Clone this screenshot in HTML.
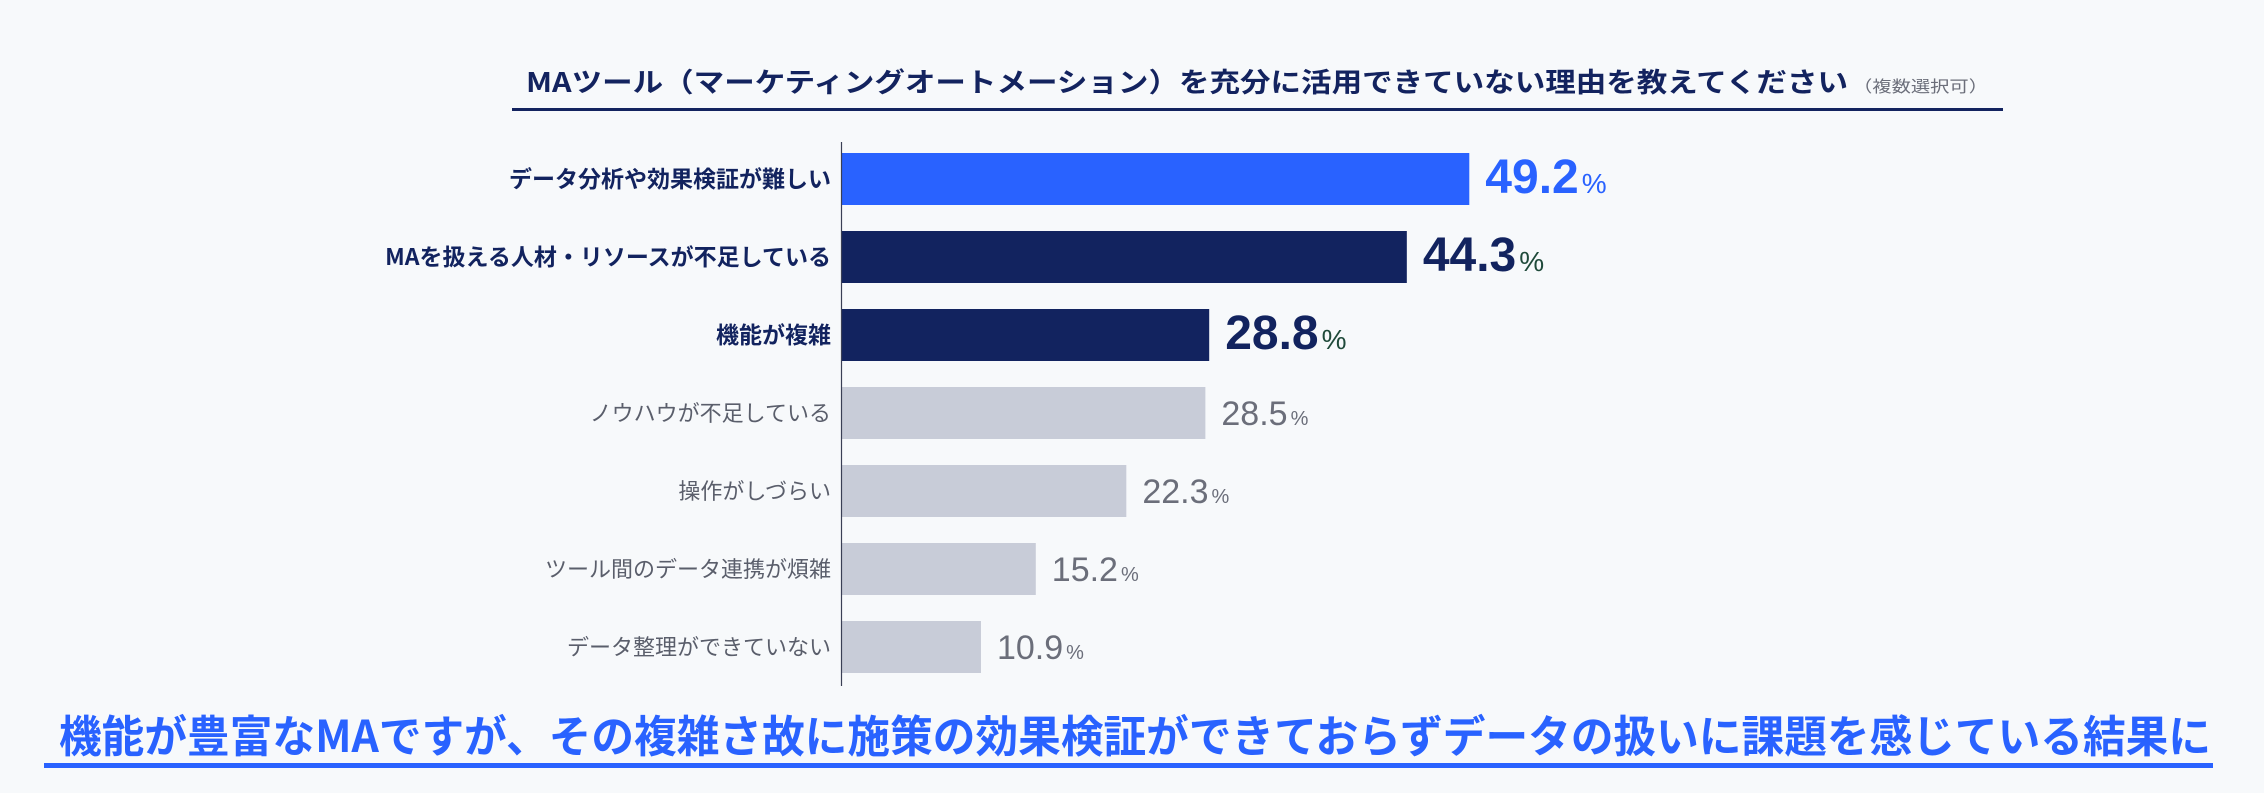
<!DOCTYPE html>
<html><head><meta charset="utf-8">
<style>
html,body{margin:0;padding:0;background:#fff;}
svg{display:block;font-family:"Liberation Sans","Noto Sans CJK JP",sans-serif;}
</style></head>
<body>
<svg id="chart" width="2264" height="808" viewBox="0 0 2264 808" xmlns="http://www.w3.org/2000/svg">
<rect x="0" y="0" width="2264" height="793" fill="#f7f9fb"/>
<text x="526" y="92" font-family="Noto Sans CJK JP, sans-serif" font-weight="700" font-size="27" fill="#13235f" textLength="1322" lengthAdjust="spacingAndGlyphs">MAツール（マーケティングオートメーション）を充分に活用できていない理由を教えてください</text>
<text x="1853" y="92" font-family="Noto Sans CJK JP, sans-serif" font-size="16" fill="#6b6e7a" textLength="135" lengthAdjust="spacingAndGlyphs">（複数選択可）</text>
<rect x="512" y="108" width="1491" height="3" fill="#13235f"/>
<g id="bars"></g>
<line x1="841.5" y1="142" x2="841.5" y2="686" stroke="#3a3f55" stroke-width="1.2"/>
<text x="59" y="752" font-family="Noto Sans CJK JP, sans-serif" font-weight="700" font-size="44" fill="#2962ff" textLength="2152" lengthAdjust="spacingAndGlyphs">機能が豊富なMAですが、その複雑さ故に施策の効果検証ができておらずデータの扱いに課題を感じている結果に</text>
<rect x="44" y="763" width="2169" height="5" fill="#2962ff"/>
</svg>
<script>
const categories = ["データ分析や効果検証が難しい","MAを扱える人材・リソースが不足している","機能が複雑","ノウハウが不足している","操作がしづらい","ツール間のデータ連携が煩雑","データ整理ができていない"];
const values = [49.2,44.3,28.8,28.5,22.3,15.2,10.9];
const valueLabels = ["49.2","44.3","28.8","28.5","22.3","15.2","10.9"];
const highlight = [1,2,2,0,0,0,0];

const NS="http://www.w3.org/2000/svg";
const x0=842, pxPer=12.75, top0=153, pitch=78, bh=52;
function xScale(v){return x0+v*pxPer;}
function yScale(i){return top0+i*pitch;}
const g=document.getElementById('bars');
const barFill=["#c8ccd8","#2962ff","#12235f"];
const valFill=["#6b6e7a","#2962ff","#12235f"];
const pctFill=["#6b6e7a","#2962ff","#1f4a3a"];
function mk(tag,attrs){const e=document.createElementNS(NS,tag);for(const k in attrs)e.setAttribute(k,attrs[k]);return e;}
categories.forEach((c,i)=>{
  const h=highlight[i], y=yScale(i), xe=xScale(values[i]);
  const r=mk('rect',{x:x0,y:y,width:xe-x0,height:bh,fill:barFill[h]});
  
  
  g.appendChild(r);
  const l=mk('text',{x:831,y:y+bh/2+8,'text-anchor':'end','font-size':h?23:22,'font-weight':h?700:400,fill:h?'#12235f':'#5a5e6b','font-family':'Noto Sans CJK JP, sans-serif'});
  l.textContent=c;
  
  
  g.appendChild(l);
  const t=mk('text',{x:xe+16,y:y+(h?40:38),'font-size':h?48:34,'font-weight':h?700:500,fill:valFill[h],'font-family':'Liberation Sans, sans-serif'});
  t.textContent=valueLabels[i];
  const p=mk('tspan',{'font-size':h?28:20,'font-weight':400,fill:pctFill[h],dx:3});
  p.textContent='%';
  t.appendChild(p);
  
  
  g.appendChild(t);
});
</script>
</body></html>
